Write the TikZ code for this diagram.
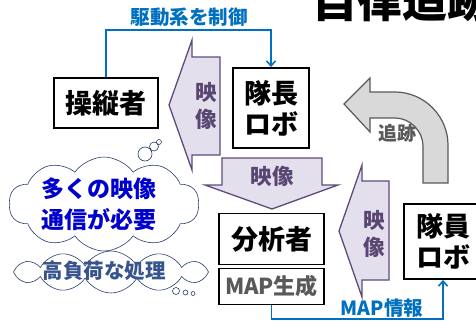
\documentclass[tikz,border=0pt]{standalone}
\usepackage{fontspec}
\setmainfont{Noto Sans CJK JP}
\usetikzlibrary{arrows.meta,shapes.symbols}
\definecolor{cblue}{RGB}{0,112,192}
\definecolor{pfill}{RGB}{228,223,236}
\definecolor{pline}{RGB}{96,74,123}
\definecolor{ptext}{RGB}{90,70,115}
\definecolor{gfill}{RGB}{217,217,217}
\definecolor{gline}{RGB}{89,89,89}
\definecolor{cloudc}{RGB}{40,60,110}
\definecolor{cloudt}{RGB}{0,0,204}
\definecolor{cloudt2}{RGB}{55,85,140}
\tikzset{
  box/.style={draw=black, line width=1.9pt, fill=white, inner sep=0pt, align=center,
    font=\fontsize{27}{31}\selectfont\bfseries},
  conn/.style={draw=cblue, line width=1.9pt, -{Straight Barb[length=5pt,width=9pt,line width=1.6pt]}},
  blk/.style={fill=pfill, draw=pline, line width=1.3pt, line join=miter},
  ptxt/.style={text=ptext, font=\fontsize{21.5}{27}\selectfont\bfseries, align=center, inner sep=0pt},
  btxt/.style={text=cblue, font=\fontsize{19.5}{19.5}\selectfont\bfseries, inner sep=0pt},
  cloudbox/.style={cloud, draw=cloudc, line width=0.6pt, cloud ignores aspect, inner sep=0pt, fill=white},
}
\begin{document}
\begin{tikzpicture}[x=1pt,y=-1pt]
\clip (0,0) rectangle (476,324);
\fill[white] (0,0) rectangle (476,324);
% title (cut off at top)
\node[anchor=base west, inner sep=0pt, font=\fontsize{45}{45}\selectfont\bfseries] (title) at (312,17) {自律追跡};
% block arrows
\draw[blk] (169,105) -- (192,40) -- (192,57) -- (220,57) -- (220,155) -- (192,155) -- (192,170) -- cycle;
\draw[blk] (222,158) -- (322,158) -- (322,185) -- (338,185) -- (272,209) -- (205,185) -- (222,185) -- cycle;
\draw[blk] (339,231) -- (362,165) -- (362,181) -- (389,181) -- (389,280) -- (362,280) -- (362,297) -- cycle;
\node[ptxt] (v1) at (206,106) {映\\像};
\node[ptxt] (v2) at (272,176) {映像};
\node[ptxt] (v3) at (374,234) {映\\像};
% gray curved arrow
\draw[fill=gfill, draw=gline, line width=1.2pt, line join=miter]
  (344,104) -- (370,78) -- (370,92) -- (395,92)
  .. controls (424,92) and (448,116) .. (448,145) -- (448,183) -- (423,183) -- (423,146)
  .. controls (423,131) and (410,118) .. (395,118) -- (370,118) -- (370,132) -- cycle;
\node[text=gline, font=\fontsize{19}{19}\selectfont\bfseries, inner sep=0pt] (track) at (397,133) {追跡};
% boxes
\node[box, minimum width=104pt, minimum height=50pt] (op) at (106,103) {操縦者};
\node[box, minimum width=76pt, minimum height=80pt] (cap) at (271,108) {隊長\\ロボ};
\node[box, minimum width=105pt, minimum height=51pt] (ana) at (271.5,239) {分析者};
\node[box, minimum width=105pt, minimum height=36pt, text=gline, font=\fontsize{22}{22}\selectfont\bfseries] (map) at (271.5,286.5) {MAP生成};
\node[box, minimum width=78pt, minimum height=75pt] (mem) at (443,241.5) {隊員\\ロボ};
% connectors
\draw[conn] (op.north) -- (op.north |- 0,30) -| (cap.north);
\node[btxt] (ctrl) at (189,17) {駆動系を制御};
\draw[conn] (map.south) -- (map.south |- 0,319) -| (mem.south);
\node[btxt] (mapinfo) at (382,308) {MAP情報};
% clouds
\node[cloudbox, cloud puffs=10, cloud puff arc=110, minimum width=190pt, minimum height=94pt] (cl1) at (104,204) {};
\node[text=cloudt, font=\fontsize{23}{31}\selectfont\bfseries, align=center, inner sep=0pt] (ct1) at (99,204) {多くの映像\\通信が必要};
\draw[cloudc, line width=0.6pt] (145,154) circle (7pt) (154,146.5) circle (4.5pt) (159,142) circle (2.5pt);
\node[cloudbox, cloud puffs=12, cloud puff arc=120, minimum width=195pt, minimum height=42pt] (cl2) at (111,272) {};
\node[text=cloudt2, font=\fontsize{20.5}{20.5}\selectfont\bfseries, inner sep=0pt] (ct2) at (104,271) {高負荷な処理};
\draw[cloudc, line width=0.6pt] (176,291) circle (3.5pt) (185.5,292.5) circle (2.5pt) (193,293.5) circle (2pt);
\end{tikzpicture}
\end{document}
